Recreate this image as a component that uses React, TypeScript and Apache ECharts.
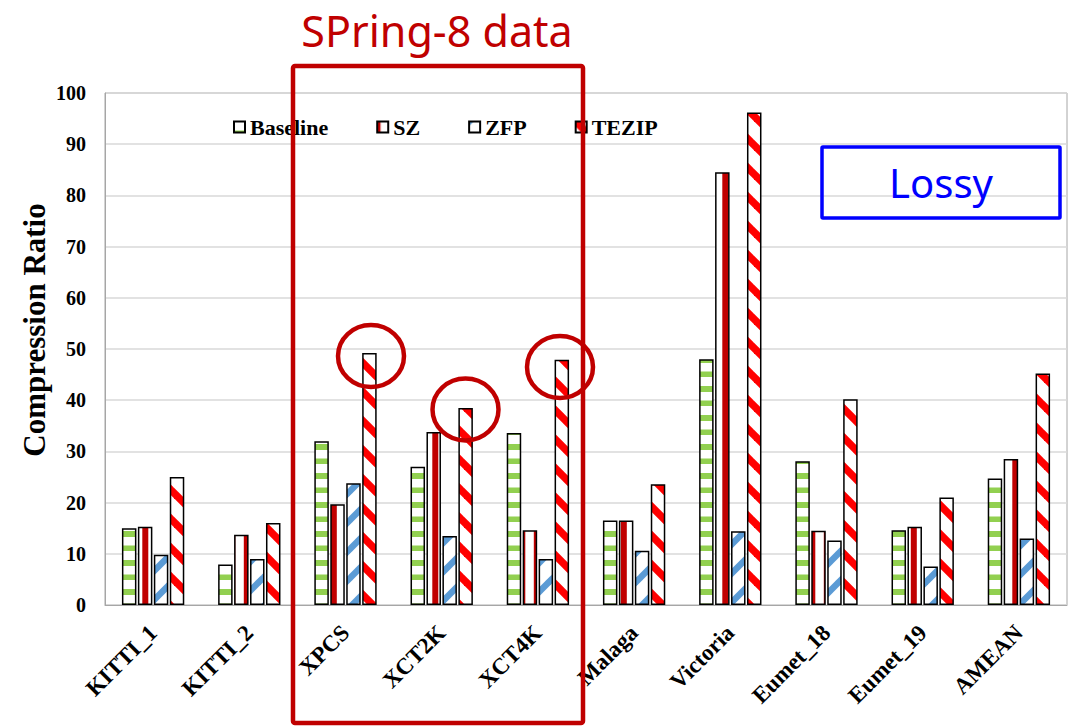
import React, { useEffect, useRef } from "react";
import * as echarts from "echarts";

const categories = ["KITTI_1", "KITTI_2", "XPCS", "XCT2K", "XCT4K", "Malaga", "Victoria", "Eumet_18", "Eumet_19", "AMEAN"];
const seriesNames = ["Baseline", "SZ", "ZFP", "TEZIP"];
const baseline = [15.0, 7.9, 32.0, 27.0, 33.6, 16.5, 48.0, 28.1, 14.6, 24.7];
const sz = [15.3, 13.7, 19.7, 33.8, 14.6, 16.5, 84.5, 14.5, 15.3, 28.5];
const zfp = [9.8, 9.0, 23.8, 13.5, 9.0, 10.6, 14.4, 12.6, 7.5, 13.0];
const tezip = [25.0, 16.0, 49.2, 38.5, 47.9, 23.6, 96.2, 40.2, 21.0, 45.2];
const yTicks = { min: 0, max: 100, interval: 10 };
const yTitle = "Compression Ratio";
const annotationTitle = "SPring-8 data";
const lossyLabel = "Lossy";

const SERIF = "'Liberation Serif', 'Times New Roman', serif";
const SANS = "'Noto Sans', 'Open Sans', sans-serif";

function makeCanvas(w: number, h: number, draw: (ctx: CanvasRenderingContext2D) => void) {
  const c = document.createElement("canvas");
  c.width = w;
  c.height = h;
  const ctx = c.getContext("2d")!;
  ctx.fillStyle = "#ffffff";
  ctx.fillRect(0, 0, w, h);
  draw(ctx);
  return c;
}

function pattern(c: HTMLCanvasElement) {
  return { image: c, repeat: "repeat", imageWidth: c.width, imageHeight: c.height } as any;
}

export default function App() {
  const ref = useRef<HTMLDivElement>(null);
  useEffect(() => {
    if (!ref.current) return;
    const chart = echarts.init(ref.current, null, { renderer: "svg" });

    const green = makeCanvas(8, 29, (ctx) => {
      ctx.fillStyle = "#92D050";
      ctx.fillRect(0, 9, 8, 6);
      ctx.fillRect(0, 23.5, 8, 6);
    });
    const szPat = makeCanvas(29, 8, (ctx) => {
      ctx.fillStyle = "#C00000";
      ctx.fillRect(11.8, 0, 6, 8);
      ctx.fillRect(26.3, 0, 2.7, 8);
      ctx.fillRect(0, 0, 3.3, 8);
    });
    const blue = makeCanvas(29, 29, (ctx) => {
      ctx.strokeStyle = "#5B9BD5";
      ctx.lineWidth = 6.5;
      for (const c of [0, 29, 58]) {
        ctx.beginPath();
        ctx.moveTo(c + 10, -10);
        ctx.lineTo(c - 40, 40);
        ctx.stroke();
      }
    });
    const red = makeCanvas(29, 29, (ctx) => {
      ctx.strokeStyle = "#FF0000";
      ctx.lineWidth = 7.5;
      for (const c of [-29, 0, 29]) {
        ctx.beginPath();
        ctx.moveTo(c - 10, -10);
        ctx.lineTo(c + 40, 40);
        ctx.stroke();
      }
    });

    const fills = [pattern(green), pattern(szPat), pattern(blue), pattern(red)];
    const datas = [baseline, sz, zfp, tezip];

    const darkRed = "#C00000";

    chart.setOption({
      animation: false,
      backgroundColor: "#ffffff",
      grid: {
        left: 105,
        right: 4,
        top: 93,
        bottom: 121,
        show: true,
        borderColor: "#a6a6a6",
        borderWidth: 1,
        containLabel: false,
      },
      legend: {
        data: seriesNames,
        left: 228,
        top: 111,
        itemWidth: 11,
        itemHeight: 11,
        itemGap: 48,
        icon: "rect",
        textStyle: { fontFamily: SERIF, fontWeight: "bold", fontSize: 22, color: "#000" },
      },
      xAxis: {
        type: "category",
        data: categories,
        axisTick: { show: false },
        axisLine: { lineStyle: { color: "#a6a6a6", width: 1 } },
        axisLabel: {
          interval: 0,
          rotate: 45,
          margin: 24,
          fontFamily: SERIF,
          fontWeight: "bold",
          fontSize: 23,
          color: "#000",
        },
      },
      yAxis: {
        type: "value",
        min: yTicks.min,
        max: yTicks.max,
        interval: yTicks.interval,
        axisLine: { show: true, lineStyle: { color: "#a6a6a6", width: 1 } },
        axisTick: { show: false },
        splitLine: { lineStyle: { color: "#d9d9d9", width: 1.5 } },
        axisLabel: { margin: 19, fontFamily: SERIF, fontWeight: "bold", fontSize: 20, color: "#000" },
      },
      series: seriesNames.map((name, i) => ({
        name,
        type: "bar",
        data: datas[i],
        barWidth: 14.5,
        barGap: "10%",
        barCategoryGap: "35%",
        itemStyle: { color: fills[i], borderColor: "#000", borderWidth: 1.5 },
      })),
      graphic: [
        {
          type: "text",
          x: 34,
          y: 330,
          rotation: Math.PI / 2,
          z: 100,
          style: {
            text: yTitle,
            fill: "#000",
            font: `bold 31px ${SERIF}`,
            textAlign: "center",
            textVerticalAlign: "middle",
          },
        },
        {
          type: "text",
          x: 437,
          y: 30,
          z: 100,
          style: {
            text: annotationTitle,
            fill: darkRed,
            font: `43px ${SANS}`,
            textAlign: "center",
            textVerticalAlign: "middle",
          },
        },
        {
          type: "rect",
          z: 100,
          shape: { x: 293, y: 66, width: 290, height: 657, r: 2 },
          style: { fill: "none", stroke: darkRed, lineWidth: 4.5 },
        },
        {
          type: "ellipse",
          z: 100,
          shape: { cx: 371, cy: 356, rx: 33, ry: 31 },
          style: { fill: "none", stroke: darkRed, lineWidth: 4.5 },
        },
        {
          type: "ellipse",
          z: 100,
          shape: { cx: 465.5, cy: 409.5, rx: 33, ry: 31 },
          style: { fill: "none", stroke: darkRed, lineWidth: 4.5 },
        },
        {
          type: "ellipse",
          z: 100,
          shape: { cx: 560, cy: 367, rx: 33, ry: 31 },
          style: { fill: "none", stroke: darkRed, lineWidth: 4.5 },
        },
        {
          type: "rect",
          z: 100,
          shape: { x: 822, y: 147, width: 238, height: 71, r: 1 },
          style: { fill: "none", stroke: "#0000FF", lineWidth: 3.5 },
        },
        {
          type: "text",
          x: 941,
          y: 182,
          z: 100,
          style: {
            text: lossyLabel,
            fill: "#0000FF",
            font: `40px ${SANS}`,
            textAlign: "center",
            textVerticalAlign: "middle",
          },
        },
      ],
    } as any);
    return () => chart.dispose();
  }, []);
  return (
    <div
      ref={ref}
      style={{ position: "absolute", left: 0, top: 0, width: 1071, height: 726, background: "#fff" }}
    />
  );
}
